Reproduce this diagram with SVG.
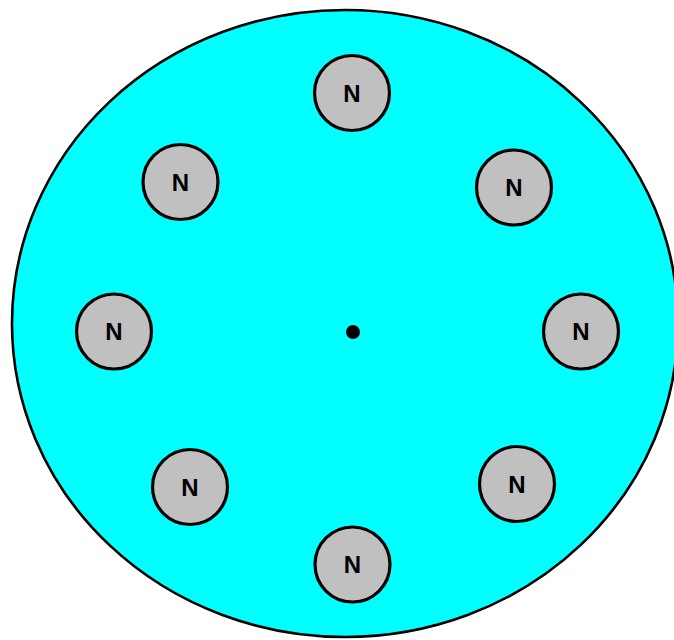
<svg xmlns="http://www.w3.org/2000/svg" width="674" height="640" viewBox="0 0 674 640">
  <style>
    .node circle { fill: #C0C0C0; stroke: #000000; stroke-width: 3.2; }
    .node text { font-family: "Liberation Sans", Arial, sans-serif; font-size: 24px; font-weight: bold; fill: #000000; text-anchor: middle; dominant-baseline: central; }
  </style>
  <rect x="0" y="0" width="674" height="640" fill="#FFFFFF"/>
  <g id="disk">
    <ellipse cx="345" cy="323.5" rx="333" ry="313.5" fill="#00FFFF" stroke="#000000" stroke-width="2.6"/>
    <circle cx="353" cy="332" r="7" fill="#000000"/>
  </g>
  <g id="connectors"></g>
  <g id="n1" class="node"><circle cx="352" cy="93" r="37.5"/><text x="352" y="93">N</text></g>
  <g id="n2" class="node"><circle cx="514" cy="187.5" r="37.5"/><text x="514" y="187.5">N</text></g>
  <g id="n3" class="node"><circle cx="581" cy="331.5" r="37.5"/><text x="581" y="331.5">N</text></g>
  <g id="n4" class="node"><circle cx="517" cy="484" r="37.5"/><text x="517" y="484">N</text></g>
  <g id="n5" class="node"><circle cx="352.5" cy="564.5" r="37.5"/><text x="352.5" y="564.5">N</text></g>
  <g id="n6" class="node"><circle cx="190" cy="487" r="37.5"/><text x="190" y="487">N</text></g>
  <g id="n7" class="node"><circle cx="114" cy="331.5" r="37.5"/><text x="114" y="331.5">N</text></g>
  <g id="n8" class="node"><circle cx="180.5" cy="182" r="37.5"/><text x="180.5" y="182">N</text></g>
</svg>
